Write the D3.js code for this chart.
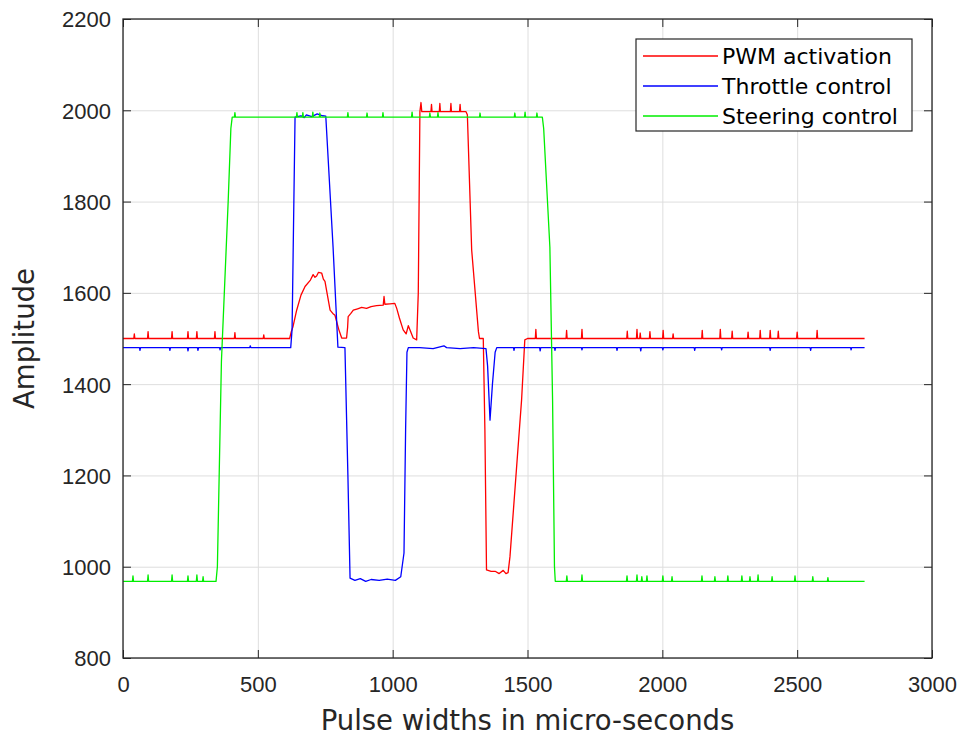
<!DOCTYPE html>
<html>
<head>
<meta charset="utf-8">
<script src="https://cdn.jsdelivr.net/npm/d3@7.9.0/dist/d3.min.js"></script>
<style>
  body { margin: 0; background: #fff; }
  svg { display: block; font-family: "DejaVu Sans", sans-serif; }
</style>
</head>
<body>
<svg id="chart" width="965" height="735"></svg>
<script>
// axis ticks
const xTicks = [0, 500, 1000, 1500, 2000, 2500, 3000];
const yTicks = [800, 1000, 1200, 1400, 1600, 1800, 2000, 2200];

const seriesNames = ['PWM activation', 'Throttle control', 'Steering control'];

// PWM activation (red), [pulse width, amplitude]
const pwm = [
  [0, 1500], [40, 1500], [42, 1510], [44, 1500], [91, 1500], [93, 1515], [95, 1500],
  [180, 1500], [182, 1515], [184, 1500], [239, 1500], [241, 1515], [243, 1500],
  [272, 1500], [274, 1515], [276, 1500], [339, 1500], [341, 1515], [343, 1500],
  [413, 1500], [415, 1513], [417, 1500], [520, 1500], [522, 1508], [524, 1500],
  [618, 1500], [624, 1515], [630, 1525], [644, 1562], [660, 1595], [675, 1614],
  [695, 1628], [705, 1640], [712, 1634], [718, 1637], [725, 1645], [737, 1643],
  [743, 1630], [749, 1625], [758, 1595], [768, 1562], [778, 1555], [786, 1551],
  [800, 1520], [811, 1501], [829, 1501], [833, 1525], [835, 1548], [845, 1555],
  [854, 1562], [870, 1565], [885, 1568], [903, 1566], [920, 1570], [940, 1572],
  [965, 1573], [968, 1592], [971, 1575], [990, 1576], [1008, 1577], [1015, 1566],
  [1025, 1545], [1039, 1519], [1050, 1510], [1058, 1528], [1064, 1519], [1076, 1501],
  [1089, 1497], [1095, 1600], [1101, 1997], [1105, 2017], [1108, 1997],
  [1142, 1997], [1144, 2013], [1146, 1997], [1173, 1997], [1175, 2015], [1177, 1997],
  [1214, 1997], [1216, 2015], [1218, 1997], [1248, 1997], [1250, 2013], [1252, 1997],
  [1272, 1997], [1277, 1990], [1293, 1694], [1318, 1515], [1322, 1500], [1336, 1500],
  [1342, 1300], [1348, 993], [1365, 990], [1380, 990], [1395, 985], [1410, 992],
  [1420, 985], [1428, 987], [1435, 1022], [1478, 1365], [1490, 1497], [1500, 1500],
  [1529, 1500], [1531, 1520], [1533, 1500], [1643, 1500], [1645, 1518], [1647, 1500],
  [1700, 1500], [1702, 1520], [1704, 1500], [1868, 1500], [1870, 1516], [1872, 1500],
  [1904, 1500], [1906, 1520], [1908, 1500], [1916, 1500], [1918, 1512], [1920, 1500],
  [1952, 1500], [1954, 1515], [1956, 1500], [2001, 1500], [2003, 1518], [2005, 1500],
  [2038, 1500], [2040, 1510], [2042, 1500], [2146, 1500], [2148, 1518], [2150, 1500],
  [2213, 1500], [2215, 1520], [2217, 1500], [2257, 1500], [2259, 1516], [2261, 1500],
  [2316, 1500], [2318, 1514], [2320, 1500], [2361, 1500], [2363, 1518], [2365, 1500],
  [2398, 1500], [2400, 1518], [2402, 1500], [2428, 1500], [2430, 1516], [2432, 1500],
  [2498, 1500], [2500, 1514], [2502, 1500], [2572, 1500], [2574, 1518], [2576, 1500],
  [2750, 1500]
];

// Throttle control (blue)
const throttle = [
  [0, 1480], [61, 1480], [63, 1474], [65, 1480], [172, 1480], [174, 1474], [176, 1480],
  [239, 1480], [241, 1473], [243, 1480], [276, 1480], [278, 1474], [280, 1480],
  [358, 1480], [360, 1475], [362, 1480], [470, 1480], [472, 1484], [474, 1480],
  [622, 1480], [627, 1520], [638, 1985], [660, 1988], [672, 1984], [680, 1990],
  [700, 1986], [720, 1992], [740, 1988], [752, 1987], [779, 1700], [797, 1481],
  [823, 1480], [834, 1200], [842, 975], [860, 970], [880, 974], [900, 968],
  [920, 972], [950, 970], [980, 973], [1010, 970], [1030, 978], [1042, 1030],
  [1048, 1300], [1053, 1470], [1058, 1480], [1100, 1480], [1150, 1478], [1190, 1484],
  [1200, 1480], [1250, 1478], [1300, 1480], [1346, 1478], [1352, 1440], [1361, 1321],
  [1370, 1400], [1380, 1470], [1386, 1480], [1448, 1480], [1450, 1474], [1452, 1480],
  [1545, 1480], [1547, 1473], [1549, 1480], [1600, 1480], [1602, 1474], [1604, 1480],
  [1700, 1480], [1702, 1475], [1704, 1480], [1830, 1480], [1832, 1474], [1834, 1480],
  [1918, 1480], [1920, 1473], [1922, 1480], [2000, 1480], [2002, 1475], [2004, 1480],
  [2118, 1480], [2120, 1474], [2122, 1480], [2218, 1480], [2220, 1475], [2222, 1480],
  [2398, 1480], [2400, 1474], [2402, 1480], [2548, 1480], [2550, 1474], [2552, 1480],
  [2698, 1480], [2700, 1475], [2702, 1480], [2750, 1480]
];

// Steering control (green)
const steering = [
  [0, 968], [35, 968], [37, 980], [39, 968], [91, 968], [93, 982], [95, 968],
  [180, 968], [182, 982], [184, 968], [239, 968], [241, 980], [243, 968],
  [272, 968], [274, 982], [276, 968], [295, 968], [297, 978], [299, 968],
  [345, 968], [350, 1000], [365, 1450], [390, 1800], [400, 1960], [405, 1985],
  [413, 1985], [415, 1995], [417, 1985], [643, 1985], [645, 1995], [647, 1985],
  [665, 1985], [667, 1995], [669, 1985], [702, 1985], [704, 1996], [706, 1985],
  [728, 1985], [730, 1994], [732, 1985], [832, 1985], [834, 1995], [836, 1985],
  [903, 1985], [905, 1994], [907, 1985], [962, 1985], [964, 1995], [966, 1985],
  [1070, 1985], [1072, 1996], [1074, 1985], [1136, 1985], [1138, 1994], [1140, 1985],
  [1166, 1985], [1168, 1995], [1170, 1985], [1322, 1985], [1324, 1994], [1326, 1985],
  [1451, 1985], [1453, 1994], [1455, 1985], [1489, 1985], [1491, 1996], [1493, 1985],
  [1533, 1985], [1535, 1994], [1537, 1985], [1555, 1985], [1560, 1960], [1583, 1700],
  [1593, 1365], [1600, 1000], [1603, 968], [1644, 968], [1646, 980], [1648, 968],
  [1700, 968], [1702, 982], [1704, 968], [1867, 968], [1869, 980], [1871, 968],
  [1904, 968], [1906, 982], [1908, 968], [1922, 968], [1924, 978], [1926, 968],
  [1941, 968], [1943, 980], [1945, 968], [2000, 968], [2002, 980], [2004, 968],
  [2034, 968], [2036, 978], [2038, 968], [2145, 968], [2147, 980], [2149, 968],
  [2193, 968], [2195, 978], [2197, 968], [2241, 968], [2243, 980], [2245, 968],
  [2293, 968], [2295, 980], [2297, 968], [2323, 968], [2325, 978], [2327, 968],
  [2353, 968], [2355, 982], [2357, 968], [2405, 968], [2407, 978], [2409, 968],
  [2490, 968], [2492, 980], [2494, 968], [2556, 968], [2558, 978], [2560, 968],
  [2612, 968], [2614, 976], [2616, 968], [2750, 968]
];

const series = [pwm, throttle, steering];
const colors = ['#ff0000', '#0000ff', '#00ee00'];

const svg = d3.select('#chart');
const plotLeft = 123, plotRight = 932, plotTop = 19, plotBottom = 658;
const textColor = '#262626';

const x = d3.scaleLinear().domain([0, 3000]).range([plotLeft, plotRight]);
const y = d3.scaleLinear().domain([800, 2200]).range([plotBottom, plotTop]);
const fmt = d3.format('d');

// grid lines
svg.append('g')
  .attr('transform', `translate(0,${plotBottom})`)
  .call(d3.axisBottom(x).tickValues(xTicks).tickSize(-(plotBottom - plotTop)).tickFormat(''))
  .call(g => g.select('.domain').remove())
  .selectAll('line').attr('stroke', '#dedede').attr('stroke-width', 1);

svg.append('g')
  .attr('transform', `translate(${plotLeft},0)`)
  .call(d3.axisLeft(y).tickValues(yTicks).tickSize(-(plotRight - plotLeft)).tickFormat(''))
  .call(g => g.select('.domain').remove())
  .selectAll('line').attr('stroke', '#dedede').attr('stroke-width', 1);

// data lines
const line = d3.line().x(d => x(d[0])).y(d => y(d[1]));
series.forEach((data, i) => {
  svg.append('path')
    .datum(data)
    .attr('fill', 'none')
    .attr('stroke', colors[i])
    .attr('stroke-width', 1.3)
    .attr('stroke-linejoin', 'round')
    .attr('d', line);
});

// axes, ticks pointing inward
const xAxis = svg.append('g')
  .attr('transform', `translate(0,${plotBottom})`)
  .call(d3.axisBottom(x).tickValues(xTicks).tickFormat(fmt).tickSizeInner(-8).tickSizeOuter(0).tickPadding(0));
xAxis.select('.domain').remove();
xAxis.selectAll('line').attr('stroke', textColor);
xAxis.selectAll('text')
  .attr('y', 34).attr('dy', null)
  .attr('fill', textColor).style('font-size', '22px');

const yAxis = svg.append('g')
  .attr('transform', `translate(${plotLeft},0)`)
  .call(d3.axisLeft(y).tickValues(yTicks).tickFormat(fmt).tickSizeInner(-8).tickSizeOuter(0).tickPadding(0));
yAxis.select('.domain').remove();
yAxis.selectAll('line').attr('stroke', textColor);
yAxis.selectAll('text')
  .attr('x', -12).attr('dy', '0.36em')
  .attr('fill', textColor).style('font-size', '22px');

// top and right ticks
svg.append('g')
  .attr('transform', `translate(0,${plotTop})`)
  .call(d3.axisTop(x).tickValues(xTicks).tickSizeInner(-8).tickSizeOuter(0).tickFormat(''))
  .call(g => g.select('.domain').remove())
  .selectAll('line').attr('stroke', textColor);
svg.append('g')
  .attr('transform', `translate(${plotRight},0)`)
  .call(d3.axisRight(y).tickValues(yTicks).tickSizeInner(-8).tickSizeOuter(0).tickFormat(''))
  .call(g => g.select('.domain').remove())
  .selectAll('line').attr('stroke', textColor);

// box
svg.append('rect')
  .attr('x', plotLeft).attr('y', plotTop)
  .attr('width', plotRight - plotLeft).attr('height', plotBottom - plotTop)
  .attr('fill', 'none').attr('stroke', textColor).attr('stroke-width', 1.3);

// axis labels
svg.append('text')
  .attr('x', (plotLeft + plotRight) / 2).attr('y', 730)
  .attr('text-anchor', 'middle')
  .attr('fill', textColor).style('font-size', '27.5px')
  .text('Pulse widths in micro-seconds');

svg.append('text')
  .attr('transform', `translate(34,${(plotTop + plotBottom) / 2}) rotate(-90)`)
  .attr('text-anchor', 'middle')
  .attr('fill', textColor).style('font-size', '27.5px')
  .text('Amplitude');

// legend
const legend = svg.append('g');
legend.append('rect')
  .attr('x', 636).attr('y', 39).attr('width', 276).attr('height', 92)
  .attr('fill', '#fff').attr('stroke', textColor).attr('stroke-width', 1.2);
seriesNames.forEach((name, i) => {
  const ly = 56 + i * 30;
  legend.append('line')
    .attr('x1', 643).attr('x2', 718).attr('y1', ly).attr('y2', ly)
    .attr('stroke', colors[i]).attr('stroke-width', 1.3);
  legend.append('text')
    .attr('x', 722).attr('y', ly).attr('dy', '0.36em')
    .attr('fill', '#000').style('font-size', '22px')
    .text(name);
});
</script>
</body>
</html>
